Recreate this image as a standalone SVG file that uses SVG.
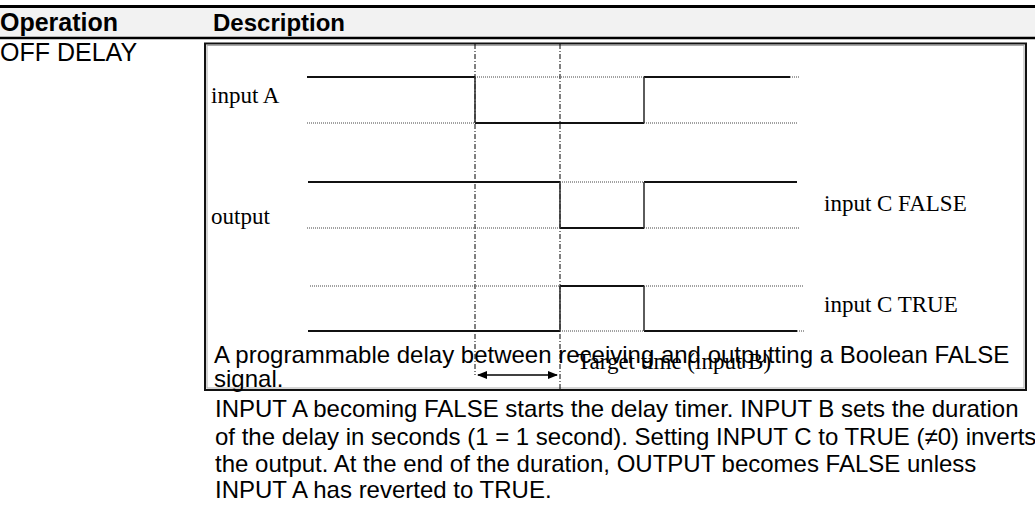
<svg xmlns="http://www.w3.org/2000/svg" width="1035" height="509" viewBox="0 0 1035 509">
<style>
.sans{font-family:"Liberation Sans",Arial,sans-serif;font-size:24px;fill:#000}
.bold{font-weight:bold}
.serif{font-family:"Liberation Serif","Times New Roman",serif;font-size:23px;fill:#000}
.hi{stroke:#111;stroke-width:2;fill:none}
.vt{stroke:#333;stroke-width:1.6;fill:none}
.dot{stroke:#444;stroke-width:1;stroke-dasharray:1 1;fill:none}
.dd{stroke:#000;stroke-width:1;stroke-dasharray:5 2 1 2;fill:none}
</style>
<defs>
<marker id="ah" markerWidth="10" markerHeight="8" refX="9" refY="4" orient="auto-start-reverse" markerUnits="userSpaceOnUse">
<path d="M0,0 L10,4 L0,8 Z" fill="#000"/>
</marker>
</defs>
<rect width="1035" height="509" fill="#fff"/>
<g id="header">
<rect x="0" y="8" width="1035" height="29" fill="#f2f2f2"/>
<line x1="0" y1="6.5" x2="1035" y2="6.5" stroke="#000" stroke-width="3"/>
<line x1="0" y1="38" x2="1035" y2="38" stroke="#000" stroke-width="2.5"/>
<text class="sans bold" x="0" y="31" style="font-size:25px">Operation</text>
<text class="sans bold" x="213" y="31">Description</text>
</g>
<text id="operation" class="sans" x="0" y="61" style="font-size:25px">OFF DELAY</text>
<g id="frame">
<rect x="205" y="43.5" width="821" height="346.5" fill="none" stroke="#111" stroke-width="2"/>
<rect x="207" y="45.5" width="817" height="342.5" fill="none" stroke="#aaa" stroke-width="1"/>
</g>
<g id="markers">
<line class="dd" x1="475" y1="44" x2="475" y2="375"/>
<line class="dd" x1="560" y1="44" x2="560" y2="390"/>
<line x1="478" y1="375" x2="557" y2="375" stroke="#000" stroke-width="1.5" marker-start="url(#ah)" marker-end="url(#ah)"/>
</g>
<g id="input-a">
<line class="hi" x1="307" y1="77" x2="475" y2="77"/>
<line class="dot" x1="475" y1="77" x2="644" y2="77"/>
<line class="hi" x1="644" y1="77" x2="790" y2="77"/>
<line class="dot" x1="790" y1="77" x2="800" y2="77"/>
<line class="dot" x1="307" y1="123" x2="475" y2="123"/>
<line class="hi" x1="475" y1="123" x2="644" y2="123"/>
<line class="dot" x1="644" y1="123" x2="798" y2="123"/>
<line class="vt" x1="475" y1="77" x2="475" y2="123"/>
<line class="vt" x1="644" y1="77" x2="644" y2="123"/>
</g>
<g id="output-false">
<line class="hi" x1="308" y1="182" x2="560" y2="182"/>
<line class="dot" x1="560" y1="182" x2="644" y2="182"/>
<line class="hi" x1="644" y1="182" x2="797" y2="182"/>
<line class="dot" x1="307" y1="228" x2="560" y2="228"/>
<line class="hi" x1="560" y1="228" x2="644" y2="228"/>
<line class="dot" x1="644" y1="228" x2="799" y2="228"/>
<line class="vt" x1="560" y1="182" x2="560" y2="228"/>
<line class="vt" x1="644" y1="182" x2="644" y2="228"/>
</g>
<g id="output-true">
<line class="dot" x1="310" y1="286" x2="560" y2="286"/>
<line class="hi" x1="560" y1="286" x2="644" y2="286"/>
<line class="dot" x1="644" y1="286" x2="803" y2="286"/>
<line class="hi" x1="308" y1="331" x2="560" y2="331"/>
<line class="dot" x1="560" y1="331" x2="644" y2="331"/>
<line class="hi" x1="644" y1="331" x2="797" y2="331"/>
<line class="dot" x1="797" y1="331" x2="805" y2="331"/>
<line class="vt" x1="560" y1="286" x2="560" y2="331"/>
<line class="vt" x1="644" y1="286" x2="644" y2="331"/>
</g>
<g id="labels">
<text class="serif" x="211" y="103">input A</text>
<text class="serif" x="211" y="224">output</text>
<text class="serif" x="824" y="211">input C FALSE</text>
<text class="serif" x="824" y="312">input C TRUE</text>
<text class="serif" x="577" y="369">Target time (input B)</text>
</g>
<g id="description">
<text class="sans" x="214" y="363">A programmable delay between receiving and outputting a Boolean FALSE</text>
<text class="sans" x="214" y="387">signal.</text>
<text class="sans" x="215" y="417">INPUT A becoming FALSE starts the delay timer. INPUT B sets the duration</text>
<text class="sans" x="215" y="445">of the delay in seconds (1 = 1 second). Setting INPUT C to TRUE (≠0) inverts</text>
<text class="sans" x="215" y="472">the output. At the end of the duration, OUTPUT becomes FALSE unless</text>
<text class="sans" x="215" y="498">INPUT A has reverted to TRUE.</text>
</g>
</svg>
